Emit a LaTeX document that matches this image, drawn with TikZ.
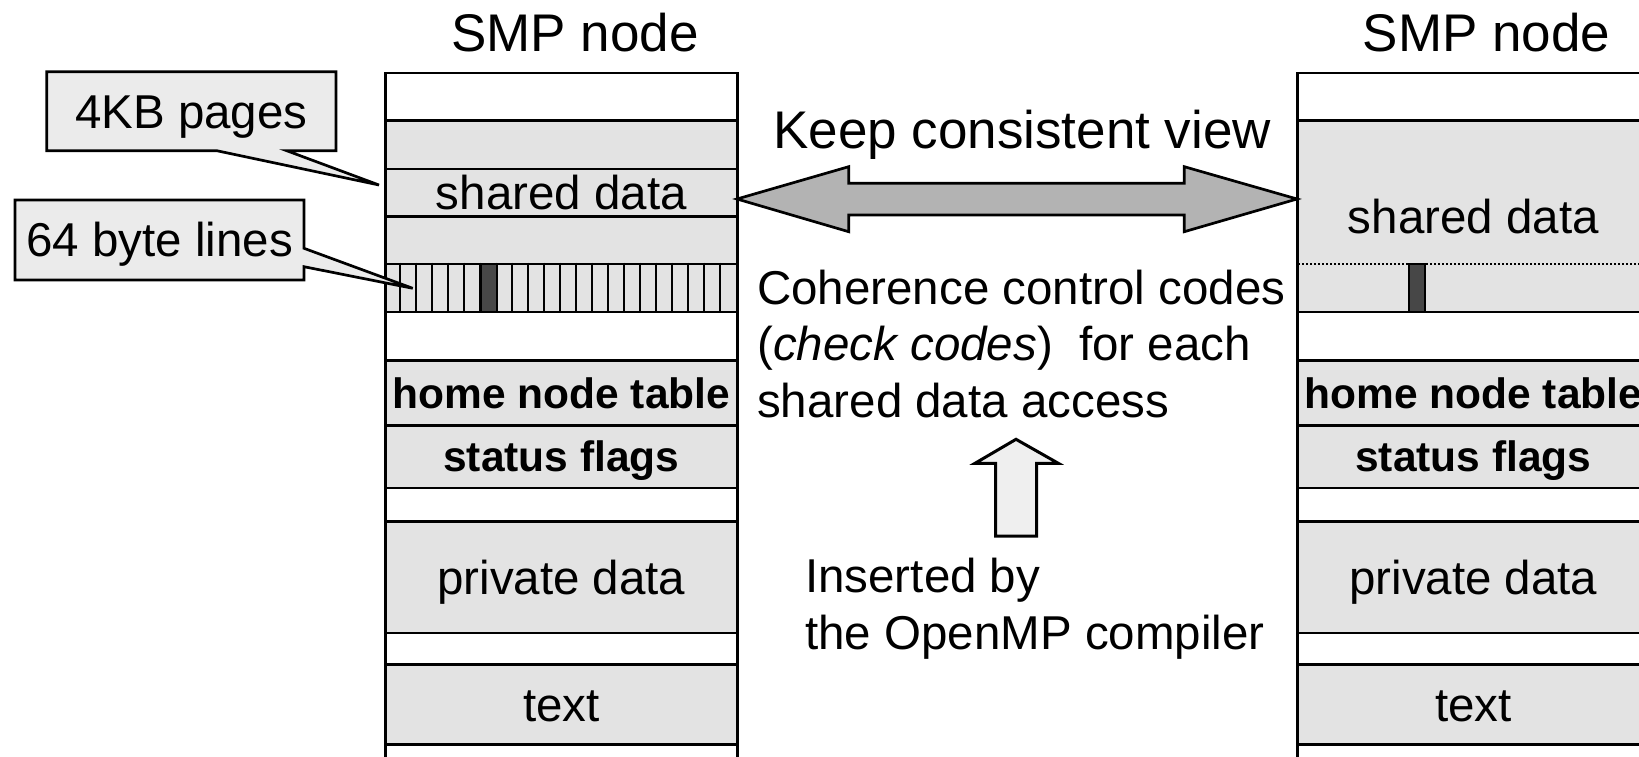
\documentclass[tikz,border=0pt]{standalone}
\usepackage{fontspec}
\setmainfont{Liberation Sans}
\usetikzlibrary{calc}
\definecolor{cellgray}{HTML}{E3E3E3}
\definecolor{callgray}{HTML}{EBEBEB}
\definecolor{arrowgray}{HTML}{B3B3B3}
\definecolor{upgray}{HTML}{EFEFEF}
\definecolor{darkbar}{HTML}{474747}
\begin{document}
\begin{tikzpicture}[x=1pt,y=-1pt,line join=miter,
  col/.style={draw,line width=2.7pt,minimum width=352pt,inner sep=0pt,anchor=north west,fill=white},
  cell/.style={draw,line width=2.7pt,fill=cellgray,minimum width=352pt,inner sep=0pt,anchor=north west,
    text height=34pt,text depth=0pt,font=\fontsize{47.5}{52}\selectfont},
  boldcell/.style={cell,text height=30.4pt,font=\fontsize{42.5}{48}\selectfont\bfseries},
  stripe/.style={line width=1.6pt},
  darkcell/.style={draw,line width=1.8pt,fill=darkbar,minimum width=16pt,minimum height=48pt,inner sep=0pt,anchor=north west},
  dotline/.style={line width=1.8pt,dash pattern=on 1.6pt off 2.4pt},
  title/.style={font=\fontsize{53}{58}\selectfont,inner sep=0pt,anchor=base},
  body/.style={font=\fontsize{47.5}{52}\selectfont,inner sep=0pt,anchor=base west},
  keep/.style={font=\fontsize{53}{58}\selectfont,inner sep=0pt,anchor=base west},
  callout/.style={draw,line width=2.7pt,fill=callgray},
  calltext/.style={font=\fontsize{47.5}{52}\selectfont,inner sep=0pt,anchor=base},
  bigarrow/.style={draw,line width=2.7pt,fill=arrowgray},
  uparrow/.style={draw,line width=3pt,fill=upgray}]
\useasboundingbox (0,0) rectangle (1639,757);
\clip (0,0) rectangle (1639,757);
\fill[white] (0,0) rectangle (1639,757);

% ---------- left SMP node ----------
\node[title] (Ltitle) at (575,52) {SMP node};
\node[col,minimum height=700pt] (Lcol) at (384,71.7) {};
\node[cell,minimum height=48.4pt] (Lg1) at (384,119.3) {};
\node[cell,minimum height=47.3pt] (Lsh) at (384,167.7) {shared data};
\node[cell,minimum height=47.7pt] (Lg2) at (384,215) {};
\node[cell,minimum height=48pt] (Lln) at (384,262.7) {};
\foreach \i in {1,...,21}
  \draw[stripe] ($(Lln.north west)+(16*\i,0)$) -- ($(Lln.south west)+(16*\i,0)$);
\node[darkcell] (Ldark) at (480,262.7) {};
\node[boldcell,minimum height=64.7pt] (Lhome) at (384,359.3) {home node table};
\node[boldcell,minimum height=62.7pt] (Lstat) at (384,424) {status flags};
\node[cell,minimum height=111.7pt] (Lpriv) at (384,520) {private data};
\node[cell,minimum height=80pt] (Ltext) at (384,663.3) {text};

% ---------- right SMP node ----------
\node[title] (Rtitle) at (1486.7,52) {SMP node};
\node[col,minimum height=700pt] (Rcol) at (1296,71.7) {};
\node[cell,minimum height=191.4pt] (Rsh) at (1296,119.3) {shared data};
\draw[dotline] ($(Rsh.west)+(2,47.7)$) -- ($(Rsh.east)+(0,47.7)$);
\node[darkcell] (Rdark) at (1408.3,262.7) {};
\node[boldcell,minimum height=64.7pt] (Rhome) at (1296,359.3) {home node table};
\node[boldcell,minimum height=62.7pt] (Rstat) at (1296,424) {status flags};
\node[cell,minimum height=111.7pt] (Rpriv) at (1296,520) {private data};
\node[cell,minimum height=80pt] (Rtext) at (1296,663.3) {text};

% ---------- callouts ----------
\coordinate (kbtip) at (379,185);
\coordinate (lntip) at (412.7,288.3);
\draw[callout] (46.7,71.7) -- (336,71.7) -- (336,150.7) -- (286.7,150.7) -- (kbtip)
  -- (216.7,150.7) -- (46.7,150.7) -- cycle;
\node[calltext] (kb) at (191.3,128.3) {4KB pages};
\draw[callout] (15,200) -- (304,200) -- (304,248.3) -- (lntip) -- (304,266.7)
  -- (304,280) -- (15,280) -- cycle;
\node[calltext] (lines) at (159.5,256.7) {64 byte lines};

% ---------- middle ----------
\node[keep] (keep) at (773,149) {Keep consistent view};
\coordinate (ltip) at (737,199);
\coordinate (rtip) at (1297,199);
\draw[bigarrow] (ltip) -- (848.7,166.7) -- (848.7,183.3) -- (1184.3,183.3) -- (1184.3,166.7)
  -- (rtip) -- (1184.3,231.7) -- (1184.3,215) -- (848.7,215) -- (848.7,231.7) -- cycle;
\node[body] (c1) at (757,304) {Coherence control codes};
\node[body] (c2) at (757,360) {(\textit{check codes})\ \ for each};
\node[body] (c3) at (757,417) {shared data access};
\coordinate (uptip) at (1016,439.3);
\draw[uparrow] (uptip) -- (1058.3,463.3) -- (1036.7,463.3) -- (1036.7,536) -- (995.7,536)
  -- (995.7,463.3) -- (975,463.3) -- cycle;
\node[body] (i1) at (805,592) {Inserted by};
\node[body] (i2) at (805,649) {the OpenMP compiler};
\end{tikzpicture}
\end{document}
